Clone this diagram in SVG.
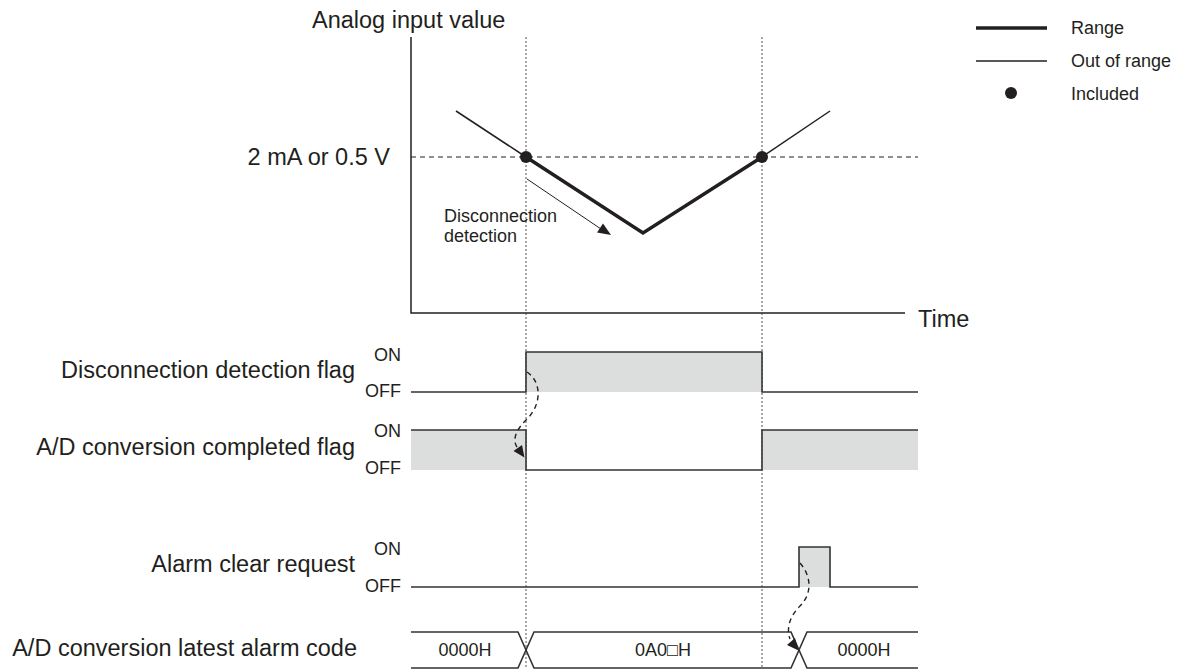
<svg xmlns="http://www.w3.org/2000/svg" width="1177" height="669" viewBox="0 0 1177 669">
<style>
text{font-family:"Liberation Sans",Arial,"DejaVu Sans",sans-serif;fill:#231f20}
.big{font-size:23.5px}
.sm{font-size:18px}
.end{text-anchor:end}
.mid{text-anchor:middle}
.thin{fill:none;stroke:#231f20;stroke-width:1.5}
.thick{fill:none;stroke:#231f20;stroke-width:3.5}
.sig{fill:none;stroke:#333;stroke-width:1.6}
.fillg{fill:#dcdddd;stroke:none}
.vdot{stroke:#8a8a8a;stroke-width:1.5;stroke-dasharray:2 2;fill:none}
.hdash{stroke:#231f20;stroke-width:1.2;stroke-dasharray:5 4;fill:none}
.cdash{stroke:#231f20;stroke-width:1.4;stroke-dasharray:5 4;fill:none}
.head{fill:#231f20}
</style>

<g id="guides">
<line class="vdot" x1="526" y1="37" x2="526" y2="669"/>
<line class="vdot" x1="762" y1="37" x2="762" y2="669"/>
</g>

<g id="legend">
<line x1="976" y1="28" x2="1047" y2="28" stroke="#231f20" stroke-width="3.5"/>
<text class="sm" x="1071" y="34">Range</text>
<line x1="976" y1="61" x2="1047" y2="61" stroke="#231f20" stroke-width="1.6"/>
<text class="sm" x="1071" y="67">Out of range</text>
<circle cx="1011" cy="93" r="6" fill="#231f20"/>
<text class="sm" x="1071" y="100">Included</text>
</g>

<g id="analog-graph">
<text class="big" x="312" y="28">Analog input value</text>
<polyline class="thin" points="411,37 411,313 905,313"/>
<text class="big" x="918" y="327">Time</text>
<text class="big end" x="390" y="165">2 mA or 0.5 V</text>
<line class="hdash" x1="411" y1="157" x2="918" y2="157"/>
<line class="thin" x1="456" y1="111" x2="526" y2="157"/>
<polyline class="thick" points="526,157 643,233 762,157"/>
<line class="thin" x1="762" y1="157" x2="830" y2="111"/>
<circle cx="526" cy="157" r="6" fill="#231f20"/>
<circle cx="762" cy="157" r="6" fill="#231f20"/>
</g>

<g id="disconnection-detection-note">
<line x1="527" y1="179" x2="601" y2="229" stroke="#231f20" stroke-width="1"/>
<polygon class="head" points="611,235 597,232.5 603,223.5"/>
<text class="sm" x="444" y="222">Disconnection</text>
<text class="sm" x="444" y="242">detection</text>
</g>

<g id="disconnection-flag">
<text class="big end" x="355" y="378">Disconnection detection flag</text>
<text class="sm end" x="401" y="361">ON</text>
<text class="sm end" x="401" y="397">OFF</text>
<rect class="fillg" x="526" y="352" width="236" height="40"/>
<polyline class="sig" points="411,392 526,392 526,352 762,352 762,392 918,392"/>
</g>

<g id="ad-completed-flag">
<text class="big end" x="355" y="455">A/D conversion completed flag</text>
<text class="sm end" x="401" y="437">ON</text>
<text class="sm end" x="401" y="474">OFF</text>
<rect class="fillg" x="411" y="430" width="115" height="40"/>
<rect class="fillg" x="762" y="430" width="156" height="40"/>
<polyline class="sig" points="411,430 526,430 526,470 762,470 762,430 918,430"/>
</g>

<g id="alarm-clear-request">
<text class="big end" x="355" y="572">Alarm clear request</text>
<text class="sm end" x="401" y="555">ON</text>
<text class="sm end" x="401" y="592">OFF</text>
<rect class="fillg" x="799" y="547" width="31" height="40"/>
<polyline class="sig" points="411,587 799,587 799,547 830,547 830,587 918,587"/>
</g>

<g id="latest-alarm-code">
<text class="big end" x="357" y="656">A/D conversion latest alarm code</text>
<polyline class="sig" points="411,632 518,632 534,668 791,668 807,632 918,632"/>
<polyline class="sig" points="411,668 518,668 534,632 791,632 807,668 918,668"/>
<text class="sm mid" x="465" y="656">0000H</text>
<text class="sm mid" x="663" y="656">0A0□H</text>
<text class="sm mid" x="864" y="656">0000H</text>
</g>

<g id="connectors">
<path class="cdash" d="M527,372 C541,381 543,404 526,420 C514,432 513,441 517,447"/>
<polygon class="head" points="524.5,457.5 513.5,451 522,445"/>
<path class="cdash" d="M800,563 C812,577 812,594 800,606 C790,616 786,628 790,639"/>
<polygon class="head" points="798.5,650.5 787,645 795,638"/>
</g>
</svg>
